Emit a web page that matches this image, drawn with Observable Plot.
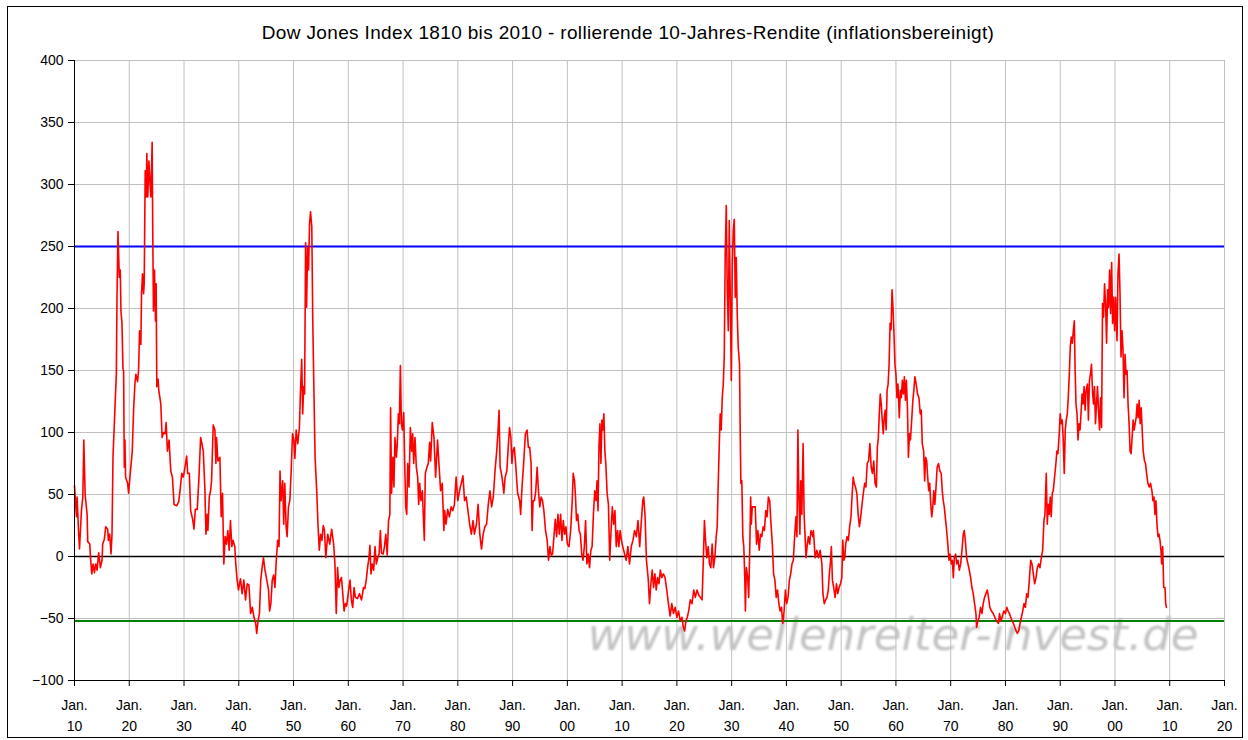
<!DOCTYPE html>
<html>
<head>
<meta charset="utf-8">
<script src="https://cdn.jsdelivr.net/npm/d3@7"></script>
<script src="https://cdn.jsdelivr.net/npm/@observablehq/plot@0.6"></script>
<style>
  body { margin: 0; background: #fff; }
  #wrap { position: relative; width: 1248px; height: 740px; overflow: hidden; background: #fff; }
  #frame { position: absolute; left: 7px; top: 6px; width: 1234px; height: 730px; border: 1px solid #000; pointer-events: none; }
  #title { position: absolute; left: 0; top: 22px; width: 1256px; text-align: center;
           font: 19px "Liberation Sans", Arial, sans-serif; letter-spacing: 0.35px; color: #000; }
</style>
</head>
<body>
<div id="wrap">
  <div id="chart"></div>
  <div id="title">Dow Jones Index 1810 bis 2010 - rollierende 10-Jahres-Rendite (inflationsbereinigt)</div>
  <div id="frame"></div>
</div>
<script>
// ---- data: [year (decimal), rolling 10-year real return in %] ----
const seg1810 = [[1810.00,57],[1810.36,32],[1810.48,48],[1810.73,21],[1810.91,6],[1811.27,37],[1811.52,48],[1811.70,94],[1811.94,50],[1812.30,34],
[1812.42,12],[1812.79,10],[1812.91,0],[1813.15,-14],[1813.39,-6],[1813.64,-13],[1813.88,-6],[1814.12,-11],[1814.42,3],[1814.73,-9],
[1815.03,-3],[1815.15,10],[1815.45,14],[1815.70,24],[1816.06,22],[1816.18,13],[1816.42,18],[1816.67,2],[1816.85,18],[1817.03,80],
[1817.39,120],[1817.64,147],[1817.76,209],[1817.94,262],[1818.18,225],[1818.36,231],[1818.48,198],[1818.67,188],[1818.85,151],[1818.97,150],
[1819.09,72],[1819.21,94],[1819.33,64],[1819.70,59],[1819.88,51],[1820.18,67],[1820.55,85],[1820.79,118],[1821.03,139],[1821.21,147],
[1821.52,141],[1821.70,150],[1821.88,182],[1822.12,171],[1822.24,212],[1822.42,228],[1822.61,212],[1822.73,220],[1822.91,311],[1823.09,290],
[1823.21,325],[1823.39,290],[1823.58,319],[1823.76,303],[1823.94,290],[1824.18,334],[1824.30,255],[1824.42,198],[1824.61,231],[1824.79,190],
[1824.91,220],[1825.03,137],[1825.27,143],[1825.39,134],[1825.76,123],[1826.00,96],[1826.24,100],[1826.55,99],[1826.73,108],[1826.97,85],
[1827.27,94],[1827.58,69],[1827.88,64],[1828.18,42],[1828.67,41],[1829.03,44],[1829.27,53],[1829.58,67],[1829.88,64],[1830.18,72],
[1830.48,81],[1830.67,67],[1830.97,67],[1831.21,37],[1831.58,30],[1831.82,22],[1832.06,38],[1832.42,38],[1832.73,64],[1833.03,96],
[1833.27,91],[1833.52,85],[1833.82,53],[1834.00,18],[1834.24,34],[1834.36,21],[1834.61,48],[1834.85,53],[1835.03,61],[1835.33,106],
[1835.64,102],[1835.82,75],[1835.94,96],[1836.18,77],[1836.55,80],[1836.79,32],[1837.03,51],[1837.27,-6],[1837.52,16],[1837.76,10],
[1838.00,21],[1838.24,5],[1838.48,29],[1838.73,8],[1838.97,13],[1839.27,8],[1839.45,-6],[1839.70,-19],[1839.94,-27]];

const seg1840 = [[1840.31,-18],[1840.62,-30],[1840.93,-19],[1841.23,-35],[1841.54,-22],[1841.85,-23],[1842.16,-46],[1842.47,-41],[1842.78,-49],[1843.09,-54],
[1843.27,-62],[1843.52,-52],[1843.77,-46],[1844.01,-19],[1844.26,-9],[1844.51,-1],[1844.75,-10],[1845.12,-19],[1845.43,-27],[1845.62,-44],
[1845.86,-38],[1846.11,-19],[1846.36,-15],[1846.60,-25],[1846.85,-3],[1847.10,13],[1847.35,8],[1847.53,69],[1847.72,45],[1848.02,61],
[1848.21,26],[1848.40,59],[1848.64,24],[1848.83,16],[1849.07,40],[1849.32,45],[1849.57,69],[1849.81,99],[1850.06,94],[1850.24,79],
[1850.48,102],[1850.77,91],[1851.07,104],[1851.25,131],[1851.49,159],[1851.67,115],[1851.85,137],[1852.02,131],[1852.20,253],[1852.38,201],
[1852.56,249],[1852.74,231],[1852.92,268],[1853.10,278],[1853.33,266],[1853.51,190],[1853.75,126],[1853.93,80],[1854.23,53],[1854.46,26],
[1854.70,5],[1854.94,18],[1855.18,13],[1855.42,25],[1855.65,21],[1855.89,-1],[1856.25,18],[1856.61,10],[1856.96,22],[1857.32,10],
[1857.56,-6],[1857.80,-46],[1858.04,-9],[1858.27,-25],[1858.51,-19],[1858.75,-17],[1858.99,-30],[1859.23,-44],[1859.46,-38],[1859.70,-40],
[1860.06,-27],[1860.31,-19],[1860.56,-35],[1860.80,-41],[1861.05,-25],[1861.30,-33],[1861.67,-34],[1862.04,-30],[1862.41,-35],[1862.78,-25],
[1863.02,-26],[1863.27,-19],[1863.52,-9],[1863.77,-1],[1863.95,9],[1864.14,-14],[1864.38,-6],[1864.63,-11],[1864.88,8],[1865.12,-6],
[1865.37,-1],[1865.62,2],[1865.86,21],[1866.05,3],[1866.36,2],[1866.60,8],[1866.85,18],[1867.10,1],[1867.35,29],[1867.59,34]];

const seg1867 = [[1867.72,120],[1867.90,51],[1868.15,80],[1868.33,56],[1868.52,96],[1868.77,80],[1868.95,91],[1869.14,115],[1869.32,107],[1869.51,154],
[1869.69,107],[1869.88,102],[1870.12,116],[1870.30,75],[1870.48,40],[1870.67,34],[1870.85,75],[1871.09,56],[1871.33,104],[1871.58,85],
[1871.76,99],[1871.94,75],[1872.18,96],[1872.42,72],[1872.67,64],[1872.85,42],[1873.03,59],[1873.27,45],[1873.52,53],[1873.76,26],
[1873.88,13],[1874.06,67],[1874.36,72],[1874.61,75],[1874.85,92],[1875.03,77],[1875.33,108],[1875.64,96],[1875.94,64],[1876.30,94],
[1876.55,75],[1876.85,53],[1877.15,59],[1877.45,21]];

const seg1877 = [[1877.59,37],[1877.84,26],[1878.15,38],[1878.46,32],[1878.77,40],[1879.07,37],[1879.38,42],[1879.69,64],[1880.00,45],[1880.31,53],
[1880.62,59],[1880.93,65],[1881.23,45],[1881.54,48],[1881.85,37],[1882.16,26],[1882.47,18],[1882.78,29],[1883.02,18],[1883.40,26],
[1883.70,42],[1884.01,18],[1884.32,6],[1884.63,18],[1884.94,24],[1885.25,26],[1885.56,42],[1885.86,53],[1886.17,40],[1886.48,48],
[1886.79,69],[1887.10,85],[1887.35,102],[1887.53,118],[1887.72,72],[1887.96,67],[1888.21,59],[1888.40,51],[1888.64,64],[1888.95,69],
[1889.20,88],[1889.44,104],[1889.69,96],[1889.88,75],[1890.06,85],[1890.31,88],[1890.55,75],[1890.92,51],[1891.29,45],[1891.47,34],
[1891.72,56],[1892.02,75],[1892.33,99],[1892.64,102],[1892.88,88],[1893.13,88],[1893.37,75],[1893.56,21],[1893.74,45],[1893.99,45],
[1894.23,53],[1894.48,72],[1894.72,53],[1894.97,40],[1895.21,48],[1895.46,45],[1895.71,37],[1896.01,21],[1896.32,13],[1896.56,-3],
[1896.81,8],[1897.06,1],[1897.30,2],[1897.55,16],[1897.79,30],[1898.04,16],[1898.28,34],[1898.53,18],[1898.77,34],[1899.02,13],
[1899.26,29],[1899.51,18],[1899.75,24],[1900.00,10],[1900.30,8],[1900.60,21],[1900.89,45],[1901.07,67],[1901.31,61],[1901.49,48],
[1901.67,29],[1901.90,34],[1902.14,21],[1902.38,18],[1902.62,2],[1902.86,-3],[1903.10,8],[1903.33,29],[1903.57,-6],[1903.81,2],
[1904.05,-9],[1904.29,5],[1904.52,8],[1904.76,34],[1905.00,53],[1905.24,45],[1905.42,61],[1905.60,37],[1905.77,88],[1905.95,107],
[1906.13,75],[1906.31,110],[1906.49,102],[1906.67,115],[1906.85,85],[1907.02,75],[1907.26,51],[1907.50,42],[1907.74,-3],[1907.98,21],
[1908.21,40],[1908.45,26],[1908.69,37],[1908.93,8],[1909.17,21],[1909.40,8],[1909.64,21],[1909.88,13],[1910.12,8]];

const seg1910 = [[1910.74,-3],[1911.05,8],[1911.36,-6],[1911.67,8],[1911.98,13],[1912.28,21],[1912.59,16],[1912.90,29],[1913.21,8],[1913.52,29],
[1913.77,45],[1913.95,48],[1914.20,32],[1914.44,-3],[1914.75,-17],[1915.00,-38],[1915.25,-22],[1915.49,-11],[1915.74,-25],[1915.99,-14],
[1916.23,-27],[1916.48,-17],[1916.73,-22],[1916.98,-11],[1917.22,-17],[1917.53,-14],[1917.84,-17],[1918.15,-27],[1918.46,-38],[1918.77,-48],
[1919.07,-38],[1919.38,-46],[1919.69,-41],[1920.00,-49],[1920.31,-44],[1920.61,-52],[1920.92,-49],[1921.17,-57],[1921.41,-60],[1921.66,-52],
[1921.90,-49],[1922.15,-44],[1922.45,-35],[1922.76,-38],[1923.07,-27],[1923.37,-33],[1923.68,-27],[1923.99,-31],[1924.29,-33],[1924.60,-35],
[1924.79,-9],[1925.03,29],[1925.28,10],[1925.46,-1],[1925.71,8],[1925.95,-6],[1926.20,-9],[1926.44,10],[1926.69,-9],[1926.93,-1],
[1927.18,16],[1927.36,24],[1927.55,59],[1927.73,88],[1927.91,115],[1928.10,102],[1928.28,128],[1928.47,139],[1928.65,161],[1928.83,244],
[1929.02,283],[1929.20,215],[1929.39,182],[1929.57,271],[1929.75,209],[1929.94,142],[1930.12,236],[1930.30,263],[1930.48,272],[1930.66,209],
[1930.84,241],[1931.02,196],[1931.20,169],[1931.44,155],[1931.56,102],[1931.68,59],[1931.86,61],[1932.04,16],[1932.22,8],[1932.40,-17],
[1932.51,-44],[1932.69,-9],[1932.93,-17],[1933.11,-33],[1933.29,2],[1933.47,48],[1933.59,26],[1933.77,40],[1934.01,40],[1934.31,40],
[1934.55,10],[1934.79,21],[1935.03,5],[1935.27,18],[1935.51,16],[1935.75,24],[1935.99,21],[1936.23,37],[1936.47,32],[1936.71,48],
[1936.95,45],[1937.19,26],[1937.43,10],[1937.66,-14],[1937.90,-19],[1938.14,-33],[1938.38,-27],[1938.62,-38],[1938.86,-44],[1939.10,-41],
[1939.34,-54],[1939.58,-44],[1939.82,-27],[1940.06,-38],[1940.30,-33],[1940.54,-19],[1940.78,-14],[1941.02,-6],[1941.26,-3],[1941.50,16],
[1941.74,32],[1941.92,16],[1942.10,102],[1942.28,48],[1942.46,18],[1942.63,61],[1942.81,34],[1943.05,91],[1943.23,34],[1943.41,16],
[1943.59,-1],[1943.77,8],[1944.01,16],[1944.25,10],[1944.49,21],[1944.85,16]];

const seg1945 = [[1944.94,21],[1945.25,-1],[1945.56,5],[1945.86,-1],[1946.17,5],[1946.48,-6],[1946.67,-30],[1946.91,-38],[1947.16,-35],[1947.41,-33],
[1947.65,-27],[1947.84,-14],[1948.02,-6],[1948.21,8],[1948.40,-19],[1948.64,-25],[1948.89,-33],[1949.14,-22],[1949.38,-30],[1949.63,-25],
[1949.88,-22],[1950.12,-17],[1950.30,13],[1950.48,-3],[1950.65,-1],[1950.83,10],[1951.07,16],[1951.31,13],[1951.55,24],[1951.79,32],
[1952.02,51],[1952.20,64],[1952.38,59],[1952.62,56],[1952.86,51],[1953.10,34],[1953.33,24],[1953.57,32],[1953.81,42],[1954.05,51],
[1954.29,59],[1954.52,56],[1954.76,75],[1955.00,77],[1955.24,91],[1955.48,72],[1955.71,67],[1955.95,77],[1956.19,59],[1956.43,56],
[1956.61,88],[1956.79,96],[1956.96,115],[1957.14,131],[1957.32,123],[1957.50,110],[1957.68,99],[1957.86,112],[1958.04,118],[1958.21,102],
[1958.39,134],[1958.57,139],[1958.75,155],[1958.93,188],[1959.11,183],[1959.29,215],[1959.46,201],[1959.64,180],[1959.82,155],[1960.00,147],
[1960.19,128],[1960.37,139],[1960.62,112],[1960.80,134],[1960.99,128],[1961.17,142],[1961.36,131],[1961.54,145],[1961.73,126],[1961.91,142],
[1962.10,120],[1962.28,80],[1962.47,99],[1962.65,94],[1962.84,107],[1963.09,126],[1963.27,134],[1963.46,145],[1963.70,139],[1963.95,131],
[1964.20,128],[1964.44,115],[1964.63,118],[1964.81,91],[1965.06,85],[1965.25,61],[1965.43,80],[1965.62,77],[1965.80,64],[1965.99,53],
[1966.17,59],[1966.36,42],[1966.54,32],[1966.73,40],[1966.91,53],[1967.10,42],[1967.28,53],[1967.53,72],[1967.78,75],[1968.02,69],
[1968.27,67],[1968.46,53],[1968.64,45],[1968.83,40],[1969.01,32],[1969.26,21],[1969.51,8],[1969.69,-3],[1969.88,2],[1970.12,-6],
[1970.30,-3],[1970.48,-17],[1970.67,-1],[1970.91,2],[1971.09,-6],[1971.33,-3],[1971.58,-11],[1971.82,-6],[1972.06,5],[1972.30,18],
[1972.48,21],[1972.67,13],[1972.91,-1],[1973.15,-6],[1973.39,-11],[1973.64,-17],[1973.88,-25],[1974.12,-30],[1974.36,-38],[1974.61,-46],
[1974.73,-57],[1974.97,-52],[1975.21,-49],[1975.45,-41],[1975.70,-46],[1975.94,-38],[1976.18,-33],[1976.42,-30],[1976.67,-27],[1976.91,-33],
[1977.15,-41],[1977.45,-44],[1977.76,-46],[1978.06,-49],[1978.36,-52],[1978.73,-54]];

const seg1979 = [[1978.91,-46],[1979.15,-52],[1979.39,-49],[1979.70,-44],[1980.00,-46],[1980.24,-41],[1980.48,-44],[1980.73,-46],[1980.97,-49],[1981.21,-52],
[1981.45,-54],[1981.70,-57],[1981.94,-60],[1982.18,-62],[1982.42,-60],[1982.67,-54],[1982.91,-49],[1983.15,-44],[1983.39,-38],[1983.64,-41],
[1983.88,-30],[1984.12,-33],[1984.36,-19],[1984.61,-3],[1984.85,-6],[1985.09,-14],[1985.33,-22],[1985.58,-17],[1985.82,-9],[1986.06,-6],
[1986.30,-9],[1986.55,-1],[1986.79,5],[1987.03,29],[1987.21,34],[1987.45,67],[1987.64,26],[1987.82,42],[1988.00,34],[1988.18,48],
[1988.36,32],[1988.55,51],[1988.73,53],[1988.97,64],[1989.21,75],[1989.39,85],[1989.58,83],[1989.82,99],[1990.00,115],[1990.18,107],
[1990.37,110],[1990.55,94],[1990.74,67],[1990.92,102],[1991.10,110],[1991.29,115],[1991.47,128],[1991.66,147],[1991.84,169],[1992.02,177],
[1992.21,172],[1992.39,182],[1992.58,190],[1992.70,155],[1992.88,123],[1993.07,115],[1993.25,94],[1993.44,107],[1993.62,102],[1993.80,115],
[1993.99,131],[1994.17,123],[1994.36,137],[1994.54,118],[1994.72,134],[1994.97,139],[1995.15,110],[1995.34,142],[1995.52,147],[1995.71,155],
[1995.89,134],[1996.07,123],[1996.26,137],[1996.44,107],[1996.63,123],[1996.81,137],[1996.99,118],[1997.18,102],[1997.36,128],[1997.55,104],
[1997.73,204],[1997.91,193],[1998.10,220],[1998.28,204],[1998.47,172],[1998.65,215],[1998.83,201],[1999.02,231],[1999.20,196],[1999.39,237],
[1999.57,188],[1999.75,209],[1999.94,182],[2000.12,209],[2000.37,174],[2000.55,228],[2000.74,244],[2000.92,212],[2001.10,161],[2001.29,182],
[2001.47,166],[2001.66,128],[2001.84,163],[2002.02,147],[2002.21,150],[2002.39,123],[2002.58,107],[2002.76,85],[2002.94,83],[2003.13,96],
[2003.31,110],[2003.50,102],[2003.68,107],[2003.87,112],[2004.05,123],[2004.23,112],[2004.42,126],[2004.60,107],[2004.79,120],[2004.97,102],
[2005.15,85],[2005.40,77],[2005.58,75],[2005.77,67],[2006.01,59],[2006.26,56],[2006.50,59],[2006.75,53],[2006.93,45],[2007.12,48],
[2007.30,34],[2007.48,45],[2007.67,26],[2007.85,16],[2008.04,18],[2008.22,13],[2008.40,5],[2008.53,-6],[2008.71,8],[2008.90,-25],
[2009.14,-25],[2009.26,-38],[2009.39,-41]];

const xTicks = [1810, 1820, 1830, 1840, 1850, 1860, 1870, 1880, 1890, 1900, 1910,
                1920, 1930, 1940, 1950, 1960, 1970, 1980, 1990, 2000, 2010, 2020];
const yTicks = [-100, -50, 0, 50, 100, 150, 200, 250, 300, 350, 400];
const upperLine = [250];
const lowerLine = [-52];
const zeroLine = [0];
const watermark = ["www.wellenreiter-invest.de"];

const series = [seg1810, seg1840, seg1867, seg1877, seg1910, seg1945, seg1979]
  .flat().map(([year, value]) => ({year, value}));

const fmtX = d => "Jan.\n" + String(d % 100).padStart(2, "0");

const chart = Plot.plot({
  width: 1248,
  height: 740,
  marginLeft: 74,
  marginRight: 24,
  marginTop: 60,
  marginBottom: 60,
  style: {fontFamily: "'Liberation Sans', Arial, sans-serif", fontSize: "14px", color: "#000", background: "transparent"},
  x: {domain: [1810, 2020]},
  y: {domain: [-100, 400]},
  marks: [
    Plot.gridX(xTicks, {stroke: "#c0c0c0", strokeOpacity: 1}),
    Plot.gridY(yTicks, {stroke: "#c0c0c0", strokeOpacity: 1}),
    Plot.text(watermark, {
      frameAnchor: "bottom-right", textAnchor: "end", lineAnchor: "bottom",
      dx: -26, dy: -31, fontSize: 45, fontStyle: "italic",
      fontFamily: "'DejaVu Sans', sans-serif", fill: "#c2c2c2"
    }),
    Plot.ruleY(zeroLine, {stroke: "#000", strokeWidth: 1.3}),
    Plot.ruleY(upperLine, {stroke: "#0000ff", strokeWidth: 2}),
    Plot.ruleY(lowerLine, {stroke: "#008000", strokeWidth: 2}),
    Plot.lineY(series, {x: "year", y: "value", stroke: "#ff0000", strokeWidth: 1.6}),
    Plot.ruleX([1810], {stroke: "#000"}),
    Plot.ruleY([-100], {stroke: "#000"}),
    Plot.axisY({ticks: yTicks, tickSize: 6, tickPadding: 5, fontSize: 14, label: null}),
    Plot.axisX({ticks: xTicks, tickSize: 6, tickPadding: 9, fontSize: 14, lineHeight: 1.5,
                tickFormat: fmtX, label: null})
  ]
});

document.getElementById("chart").appendChild(chart);

// soften the watermark a little, like the blurred original
const svg = d3.select(chart);
const defs = svg.insert("defs", ":first-child");
defs.append("filter").attr("id", "wmblur").append("feGaussianBlur").attr("stdDeviation", 0.8);
svg.selectAll("text").filter(function() { return this.textContent === watermark[0]; })
  .attr("filter", "url(#wmblur)");
</script>
</body>
</html>
